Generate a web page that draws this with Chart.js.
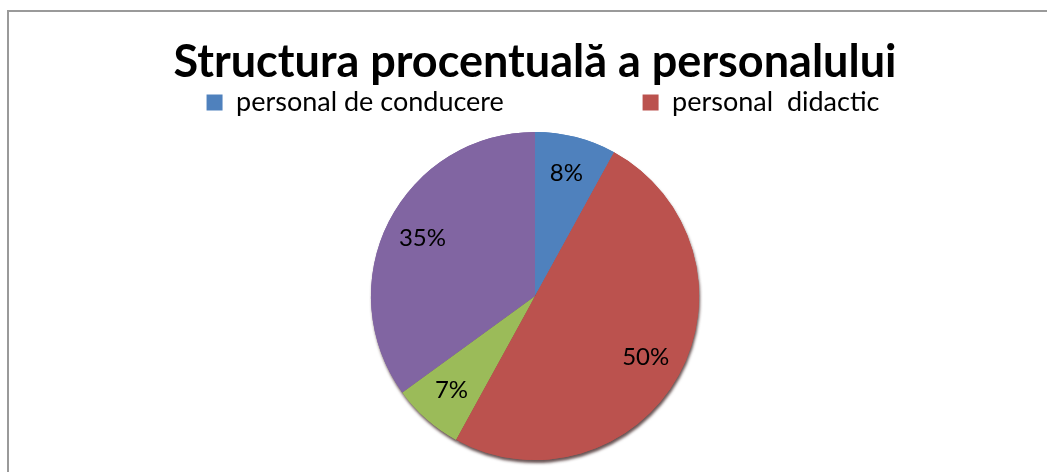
<!DOCTYPE html>
<html>
<head>
<meta charset="utf-8">
<script src="https://cdn.jsdelivr.net/npm/chart.js@4/dist/chart.umd.min.js"></script>
<style>
  html, body { margin: 0; padding: 0; background: #fff; overflow: hidden; }
  #frame {
    position: absolute; left: 7px; top: 10px; width: 1100px; height: 500px;
    border-left: 2px solid #9a9a9a; border-top: 2px solid #9a9a9a;
  }
  #wrap { position: absolute; left: 0; top: 0; width: 1047px; height: 472px; }
</style>
</head>
<body>
<div id="frame"></div>
<div id="wrap"><canvas id="chart"></canvas></div>
<script>
var categorii = ['personal de conducere', 'personal  didactic', 'personal didactic auxiliar', 'personal nedidactic'];
var procente = [8, 50, 7, 35];
var culori = ['#4f81bd', '#bb524e', '#9bbb59', '#8165a2'];

var FONT = 'Lato';

window.onload = function () {

    const ctx = document.getElementById('chart');

    // legend columns like the original: pad item 1 so item 2 starts 437px later
    var m = document.createElement('canvas').getContext('2d');
    m.font = '27px ' + FONT;
    var gol = 437 - 16 - 13.5 - 4 - m.measureText(categorii[0]).width;
    var umplutura = '';
    while (m.measureText(umplutura + ' ').width <= gol) umplutura += ' ';
    while (m.measureText(umplutura + '\u200A').width <= gol) umplutura += '\u200A';

    const umbra = {
        id: 'umbra',
        beforeDatasetsDraw(chart) {
            const c = chart.ctx;
            c.save();
            c.shadowColor = 'rgba(40,10,10,0.7)';
            c.shadowOffsetX = 1;
            c.shadowOffsetY = 3;
            c.shadowBlur = 3;
            chart.getDatasetMeta(0).data.forEach(function (arc) { arc.draw(c); });
            c.restore();
        }
    };

    const mutaLegenda = {
        id: 'mutaLegenda',
        afterLayout(chart) {
            chart.legend.left += 8;
            chart.legend.right += 8;
        }
    };

    const eticheteProcent = {
        id: 'eticheteProcent',
        afterDatasetsDraw(chart) {
            const c = chart.ctx;
            const meta = chart.getDatasetMeta(0);
            c.save();
            c.font = '24px ' + FONT;
            c.fillStyle = '#000';
            c.textAlign = 'center';
            c.textBaseline = 'middle';
            meta.data.forEach(function (arc, i) {
                const p = arc.getProps(['x', 'y', 'startAngle', 'endAngle', 'outerRadius'], true);
                const a = (p.startAngle + p.endAngle) / 2;
                const d = p.outerRadius * 0.77;
                c.fillText(procente[i] + '%', p.x + Math.cos(a) * d, p.y + Math.sin(a) * d);
            });
            c.restore();
        }
    };

    new Chart(ctx, {
        type: 'pie',
        data: {
            labels: categorii,
            datasets: [{
                data: procente,
                backgroundColor: culori,
                borderWidth: 0,
                radius: '96.5%'
            }]
        },
        options: {
            responsive: true,
            maintainAspectRatio: false,
            animation: false,
            layout: {
                padding: { left: 23, right: 0, top: 0, bottom: 6 }
            },
            plugins: {
                title: {
                    display: true,
                    text: 'Structura procentuală a personalului',
                    color: '#000',
                    font: { family: FONT, size: 45, weight: 'bold', lineHeight: 1 },
                    padding: { top: 40, bottom: 0 }
                },
                legend: {
                    position: 'top',
                    labels: {
                        color: '#000',
                        font: { family: FONT, size: 27 },
                        boxWidth: 16,
                        boxHeight: 16,
                        padding: 4,
                        generateLabels: function (chart) {
                            var items = Chart.overrides.pie.plugins.legend.labels.generateLabels(chart);
                            items = items.slice(0, 2);
                            items.forEach(function (it) { it.lineWidth = 0; });
                            items[0].text = items[0].text + umplutura;
                            return items;
                        }
                    },
                    onClick: null
                },
                tooltip: { enabled: false }
            }
        },
        plugins: [umbra, eticheteProcent, mutaLegenda]
    });
}
</script>
</body>
</html>
